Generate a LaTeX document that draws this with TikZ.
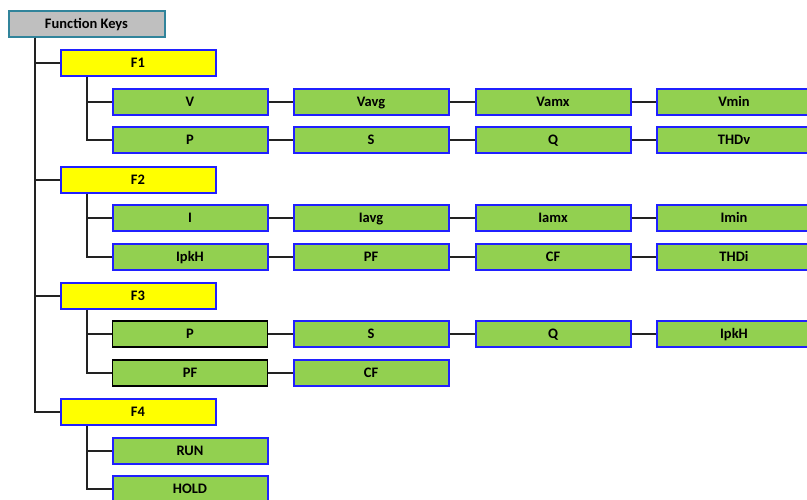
\documentclass[tikz,border=0pt]{standalone}
\usepackage{fontspec}
\setmainfont{Carlito}
\definecolor{boxgreen}{HTML}{92D050}
\definecolor{boxyellow}{HTML}{FFFF00}
\definecolor{boxgray}{HTML}{BFBFBF}
\definecolor{tealedge}{HTML}{31849B}
\definecolor{blueedge}{HTML}{2020FF}
\definecolor{linecol}{HTML}{222222}
\begin{document}
\begin{tikzpicture}[x=1pt,y=-1pt,
  base/.style={draw, line width=2pt, minimum width=155pt, minimum height=25.5pt, inner sep=0pt,
     text height=9.3pt, text depth=0pt,
     font=\fontsize{14.5}{16}\selectfont\bfseries, text=black},
  rootbox/.style={base, fill=boxgray, draw=tealedge, minimum width=156pt},
  keybox/.style={base, fill=boxyellow, draw=blueedge},
  itembox/.style={base, fill=boxgreen, draw=blueedge},
  itemblk/.style={base, fill=boxgreen, draw=black, line width=1.6pt},
  conn/.style={draw=linecol, line width=1.5pt}]
\clip (0,0) rectangle (807,500);
\useasboundingbox (0,0) rectangle (807,500);
\node[rootbox] (fk) at (86.5,24) {Function Keys};
\node[keybox] (f1) at (138,63) {F1};
\node[keybox] (f2) at (138,180) {F2};
\node[keybox] (f3) at (138,296) {F3};
\node[keybox] (f4) at (138,412) {F4};
% F1
\node[itembox] (v) at (190,102) {V};
\node[itembox] (vavg) at (371,102) {Vavg};
\node[itembox] (vamx) at (553,102) {Vamx};
\node[itembox] (vmin) at (734,102) {Vmin};
\node[itembox] (p1) at (190,140) {P};
\node[itembox] (s1) at (371,140) {S};
\node[itembox] (q1) at (553,140) {Q};
\node[itembox] (thdv) at (734,140) {THDv};
% F2
\node[itembox] (i) at (190,218) {I};
\node[itembox] (iavg) at (371,218) {Iavg};
\node[itembox] (iamx) at (553,218) {Iamx};
\node[itembox] (imin) at (734,218) {Imin};
\node[itembox] (ipkh2) at (190,257) {IpkH};
\node[itembox] (pf2) at (371,257) {PF};
\node[itembox] (cf2) at (553,257) {CF};
\node[itembox] (thdi) at (734,257) {THDi};
% F3
\node[itemblk] (p3) at (190,334) {P};
\node[itembox] (s3) at (371,334) {S};
\node[itembox] (q3) at (553,334) {Q};
\node[itembox] (ipkh3) at (734,334) {IpkH};
\node[itemblk] (pf3) at (190,373) {PF};
\node[itembox] (cf3) at (371,373) {CF};
% F4
\node[itembox] (run) at (190,451) {RUN};
\node[itembox] (hold) at (190,489) {HOLD};
% connectors
\coordinate (t) at (35,37);
\coordinate (u) at (87,0);
\foreach \k in {f1,f2,f3,f4}
  \path[conn] (fk.south -| t) |- (\k.west);
\foreach \k/\r in {f1/v,f1/p1,f2/i,f2/ipkh2,f3/p3,f3/pf3,f4/run,f4/hold}
  \path[conn] (\k.south -| u) |- (\r.west);
\foreach \a/\b in {v/vavg,vavg/vamx,vamx/vmin,p1/s1,s1/q1,q1/thdv,
  i/iavg,iavg/iamx,iamx/imin,ipkh2/pf2,pf2/cf2,cf2/thdi,
  p3/s3,s3/q3,q3/ipkh3,pf3/cf3}
  \path[conn] (\a.east) -- (\b.west);
\end{tikzpicture}
\end{document}
